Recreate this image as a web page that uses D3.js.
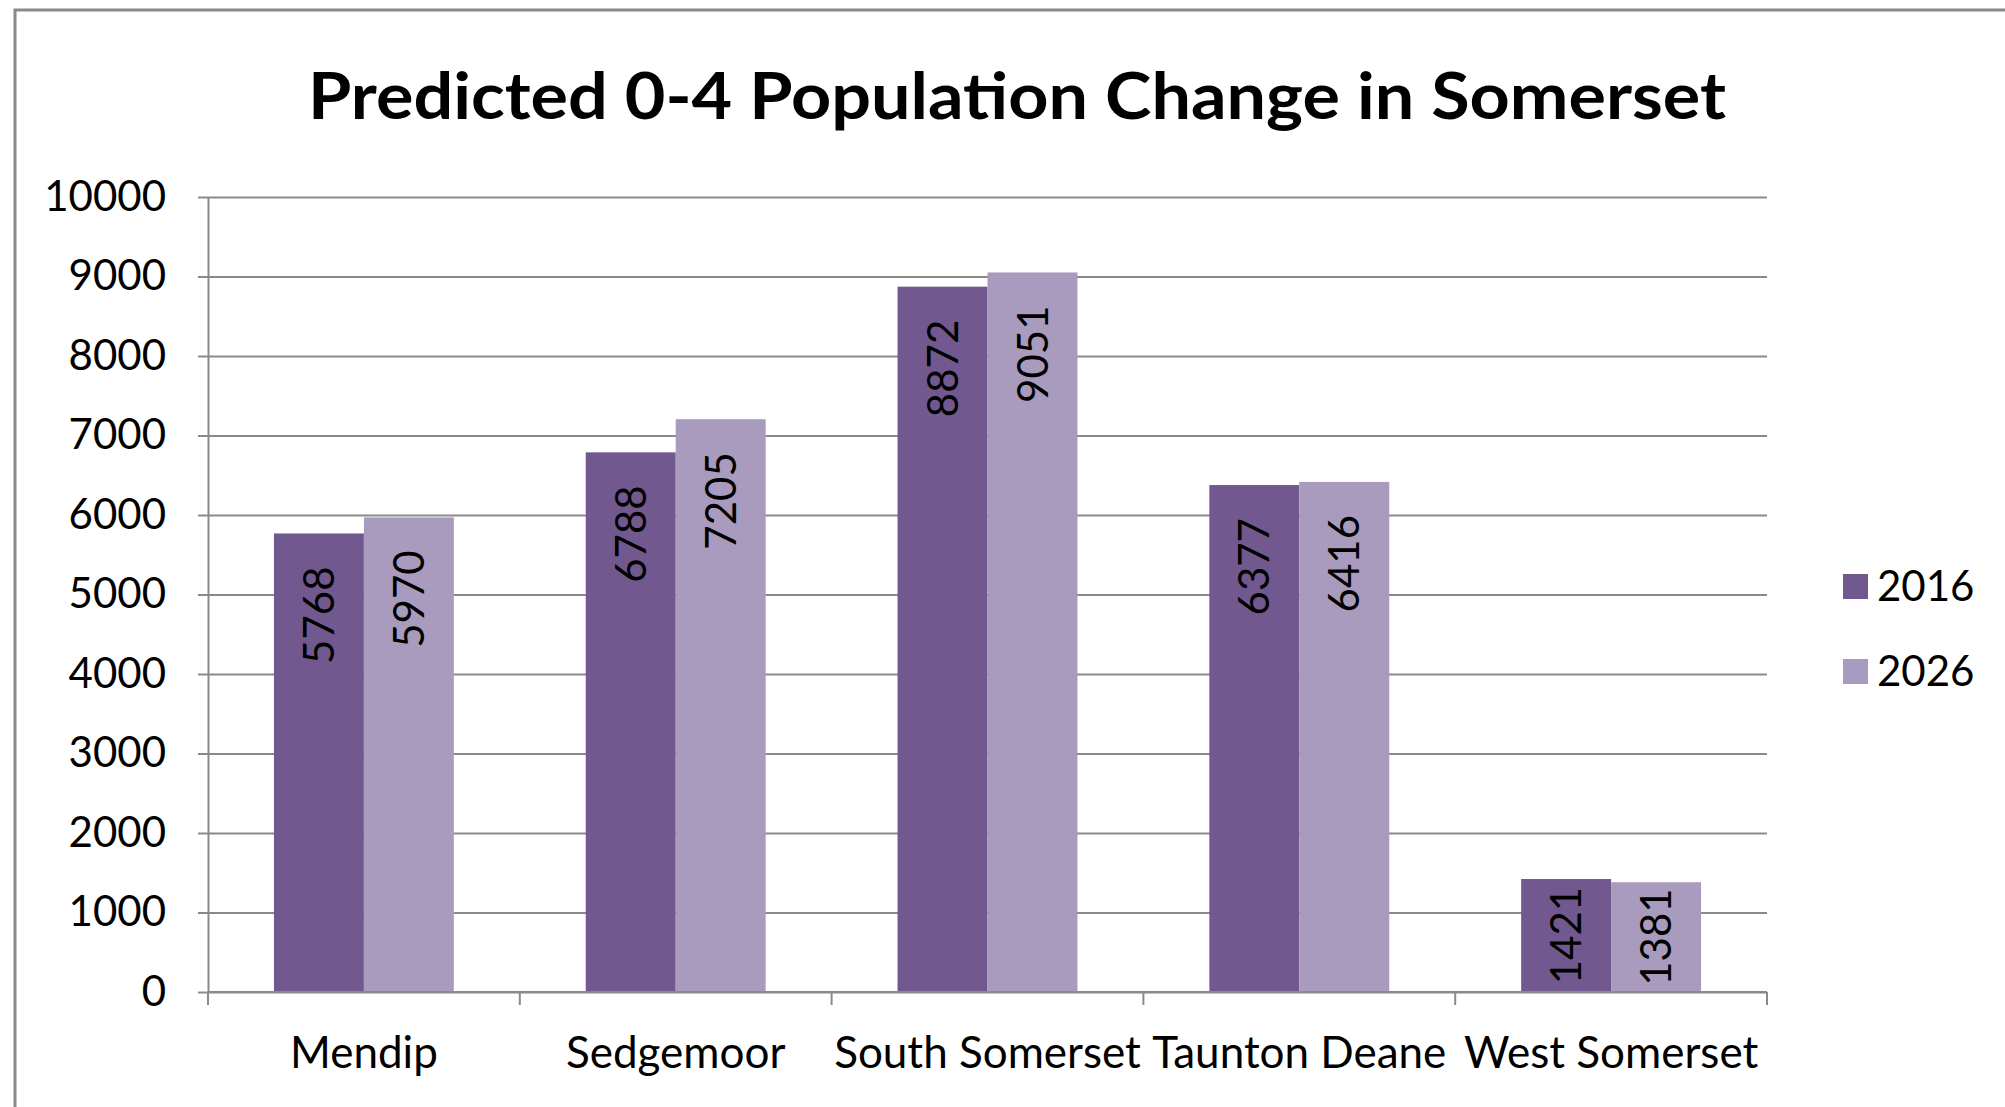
<!DOCTYPE html>
<html>
<head>
<meta charset="utf-8">
<script src="https://cdn.jsdelivr.net/npm/d3@7"></script>
<style>
  body { margin: 0; background: #fff; }
  text { font-family: Lato, "Liberation Sans", sans-serif; }
</style>
</head>
<body>
<svg id="chart" width="2005" height="1107"></svg>
<script>
const categories = ["Mendip", "Sedgemoor", "South Somerset", "Taunton Deane", "West Somerset"];
const seriesNames = ["2016", "2026"];
const values2016 = [5768, 6788, 8872, 6377, 1421];
const values2026 = [5970, 7205, 9051, 6416, 1381];
const yTicks = [0, 1000, 2000, 3000, 4000, 5000, 6000, 7000, 8000, 9000, 10000];
const colors = ["#71588f", "#a99bbd"];

const series = [values2016, values2026];

var svg = d3.select("#chart");
var plot = {left: 208, right: 1767, top: 197, bottom: 992};

// outer frame (only the top and left edges are in view)
svg.append("path")
  .attr("d", "M15,1107 V10 H2005")
  .attr("fill", "none")
  .attr("stroke", "#8a8a8a")
  .attr("stroke-width", 3);

svg.append("text")
  .attr("x", 1017)
  .attr("y", 119)
  .attr("text-anchor", "middle")
  .attr("font-size", 65)
  .attr("font-weight", "bold")
  .attr("fill", "#000")
  .attr("textLength", 1418)
  .attr("lengthAdjust", "spacingAndGlyphs")
  .text("Predicted 0-4 Population Change in Somerset");

var x0 = d3.scaleBand()
  .domain(categories)
  .range([plot.left, plot.right])
  .paddingInner(0.423)
  .paddingOuter(0.2115);

var x1 = d3.scaleBand()
  .domain(seriesNames)
  .range([0, x0.bandwidth()]);

var y = d3.scaleLinear()
  .domain([0, 10000])
  .range([plot.bottom, plot.top]);

// gridlines
var grid = svg.append("g")
  .attr("transform", "translate(" + plot.left + ",0)")
  .call(d3.axisLeft(y).tickValues(yTicks).tickSize(-(plot.right - plot.left)).tickFormat(""));
grid.select(".domain").remove();
grid.selectAll("line").attr("stroke", "#8a8a8a").attr("stroke-width", 2);

// y axis
var yAxis = svg.append("g")
  .attr("transform", "translate(" + plot.left + ",0)")
  .call(d3.axisLeft(y).tickValues(yTicks).tickFormat(d3.format("d"))
    .tickSize(10).tickPadding(32).tickSizeOuter(0));
yAxis.select(".domain").attr("stroke", "#8a8a8a").attr("stroke-width", 2);
yAxis.selectAll("line").attr("stroke", "#8a8a8a").attr("stroke-width", 2);
yAxis.selectAll("text").attr("font-size", 42).attr("fill", "#000")
  .style("font-family", "Lato, 'Liberation Sans', sans-serif");

// bars
categories.forEach(function(c, i) {
  series.forEach(function(vals, s) {
    svg.append("rect")
      .attr("x", x0(c) + x1(seriesNames[s]))
      .attr("y", y(vals[i]))
      .attr("width", x1.bandwidth())
      .attr("height", y(0) - y(vals[i]))
      .attr("fill", colors[s]);
  });
});

// x axis: labels at band centres, ticks at band boundaries
var xAxis = svg.append("g")
  .attr("transform", "translate(0," + plot.bottom + ")")
  .call(d3.axisBottom(x0).tickSize(0).tickPadding(45));
xAxis.select(".domain").remove();
xAxis.selectAll("text").attr("font-size", 44).attr("fill", "#000")
  .style("font-family", "Lato, 'Liberation Sans', sans-serif");

var half = (x0.step() - x0.bandwidth()) / 2;
var bounds = categories.map(function(c) { return x0(c) - half; });
bounds.push(x0(categories[categories.length - 1]) + x0.bandwidth() + half);

svg.append("line")
  .attr("x1", plot.left).attr("x2", plot.right)
  .attr("y1", plot.bottom).attr("y2", plot.bottom)
  .attr("stroke", "#8a8a8a").attr("stroke-width", 2);
svg.selectAll(".xtick").data(bounds).enter().append("line")
  .attr("class", "xtick")
  .attr("x1", function(d) { return d; }).attr("x2", function(d) { return d; })
  .attr("y1", plot.bottom).attr("y2", plot.bottom + 13)
  .attr("stroke", "#8a8a8a").attr("stroke-width", 2);

// value labels, rotated, inside end of each bar
categories.forEach(function(c, i) {
  series.forEach(function(vals, s) {
    var cx = x0(c) + x1(seriesNames[s]) + x1.bandwidth() / 2;
    var top = y(vals[i]);
    var t = svg.append("text")
      .attr("font-size", 42)
      .attr("fill", "#000")
      .attr("text-anchor", "end")
      .attr("dy", "0.36em")
      .text(vals[i]);
    var len = t.node().getComputedTextLength();
    var pad = Math.min(33, (y(0) - top - len) / 2);
    t.attr("transform", "translate(" + cx + "," + (top + pad) + ") rotate(-90)");
  });
});

// legend
var legend = svg.append("g");
seriesNames.forEach(function(name, s) {
  var cy = 586 + s * 85;
  legend.append("rect")
    .attr("x", 1843).attr("y", cy - 12)
    .attr("width", 25).attr("height", 25)
    .attr("fill", colors[s]);
  legend.append("text")
    .attr("x", 1877).attr("y", cy)
    .attr("dy", "0.36em")
    .attr("font-size", 42)
    .attr("fill", "#000")
    .text(name);
});
</script>
</body>
</html>
